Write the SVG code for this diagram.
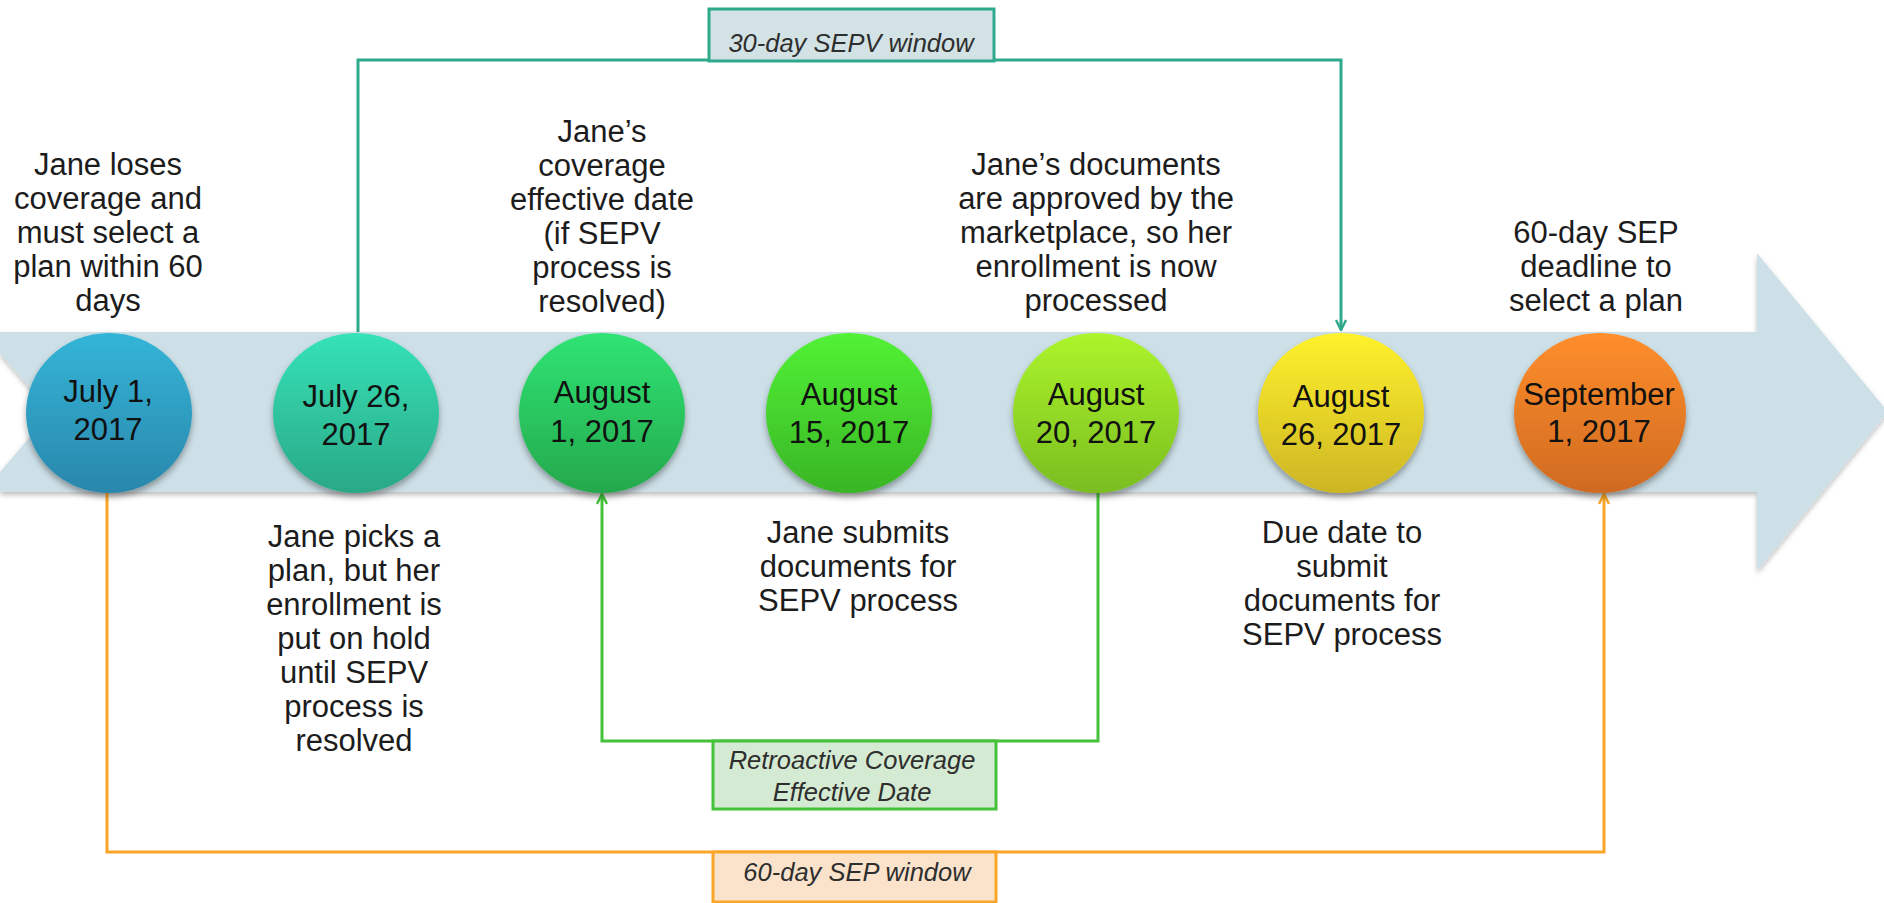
<svg xmlns="http://www.w3.org/2000/svg" width="1884" height="903" viewBox="0 0 1884 903">
<style>
.t{font-family:"Liberation Sans",Arial,sans-serif;font-size:31px;fill:#1c1c1c;text-anchor:middle}
.d{font-family:"Liberation Sans",Arial,sans-serif;font-size:31px;fill:#111;text-anchor:middle}
.lb{font-family:"Liberation Sans",Arial,sans-serif;font-size:25.5px;font-style:italic;fill:#2e2e2e;text-anchor:middle}
.c{fill:none;stroke-width:3}
</style>
<defs>
<filter id="sh" x="-20%" y="-20%" width="140%" height="150%">
<feDropShadow dx="0" dy="4" stdDeviation="3" flood-color="#000" flood-opacity="0.35"/>
</filter>
<filter id="shb" x="-5%" y="-20%" width="110%" height="140%">
<feDropShadow dx="0" dy="3" stdDeviation="2.5" flood-color="#000" flood-opacity="0.25"/>
</filter>
<linearGradient id="g1" x1="0" y1="0" x2="0" y2="1"><stop offset="0" stop-color="#33b5d8"/><stop offset="1" stop-color="#2a87ab"/></linearGradient>
<linearGradient id="g2" x1="0" y1="0" x2="0" y2="1"><stop offset="0" stop-color="#35e2b8"/><stop offset="1" stop-color="#2aa886"/></linearGradient>
<linearGradient id="g3" x1="0" y1="0" x2="0" y2="1"><stop offset="0" stop-color="#30e474"/><stop offset="1" stop-color="#24a84c"/></linearGradient>
<linearGradient id="g4" x1="0" y1="0" x2="0" y2="1"><stop offset="0" stop-color="#52f235"/><stop offset="1" stop-color="#39b526"/></linearGradient>
<linearGradient id="g5" x1="0" y1="0" x2="0" y2="1"><stop offset="0" stop-color="#acf52c"/><stop offset="1" stop-color="#7abd20"/></linearGradient>
<linearGradient id="g6" x1="0" y1="0" x2="0" y2="1"><stop offset="0" stop-color="#fff22c"/><stop offset="1" stop-color="#cdb524"/></linearGradient>
<linearGradient id="g7" x1="0" y1="0" x2="0" y2="1"><stop offset="0" stop-color="#ff8e2b"/><stop offset="1" stop-color="#cf6a21"/></linearGradient>
<marker id="mt" viewBox="0 0 12 12" refX="11" refY="6" markerWidth="12" markerHeight="12" markerUnits="userSpaceOnUse" orient="auto"><path d="M1,1 L11,6 L1,11" fill="none" stroke="#2fa98b" stroke-width="2.5"/></marker>
<marker id="mg" viewBox="0 0 12 12" refX="11" refY="6" markerWidth="12" markerHeight="12" markerUnits="userSpaceOnUse" orient="auto"><path d="M1,1 L11,6 L1,11" fill="none" stroke="#45c23a" stroke-width="2.5"/></marker>
<marker id="mo" viewBox="0 0 12 12" refX="11" refY="6" markerWidth="12" markerHeight="12" markerUnits="userSpaceOnUse" orient="auto"><path d="M1,1 L11,6 L1,11" fill="none" stroke="#f9a628" stroke-width="2.5"/></marker>
</defs>
<rect width="1884" height="903" fill="#fff"/>

<g id="band">
<polygon points="0,332 1757,332 1757,253 1888,412 1757,571 1757,492 0,492 0,472 51,412 0,353" fill="#cde0e7" filter="url(#shb)"/>
</g>

<g id="connectors">
<polyline class="c" stroke="#2fa98b" points="358,332 358,60 1341,60 1341,330" marker-end="url(#mt)"/>
<polyline class="c" stroke="#45c23a" points="1098,492 1098,741 602,741 602,494" marker-end="url(#mg)"/>
<polyline class="c" stroke="#f9a628" points="107,492 107,852 1604,852 1604,494" marker-end="url(#mo)"/>
</g>

<g id="label-sepv">
<rect x="709" y="9" width="285" height="52" fill="#d3e2e5" stroke="#2fa98b" stroke-width="3"/>
<text class="lb" x="851" y="52">30-day SEPV window</text>
</g>
<g id="label-retro">
<rect x="713" y="741" width="283" height="68" fill="#d5ead2" stroke="#45c23a" stroke-width="3"/>
<text class="lb" x="852" y="769">Retroactive Coverage</text>
<text class="lb" x="852" y="801">Effective Date</text>
</g>
<g id="label-sep">
<rect x="713" y="852" width="283" height="50" fill="#fbe3cb" stroke="#f9a628" stroke-width="3"/>
<text class="lb" x="857" y="881">60-day SEP window</text>
</g>

<g id="n1">
<ellipse cx="109" cy="413" rx="83" ry="80" fill="url(#g1)" filter="url(#sh)"/>
<text class="d" x="108" y="402">July 1,</text>
<text class="d" x="108" y="440">2017</text>
</g>
<g id="n2">
<ellipse cx="356" cy="413" rx="83" ry="80" fill="url(#g2)" filter="url(#sh)"/>
<text class="d" x="356" y="407">July 26,</text>
<text class="d" x="356" y="445">2017</text>
</g>
<g id="n3">
<ellipse cx="602" cy="413" rx="83" ry="80" fill="url(#g3)" filter="url(#sh)"/>
<text class="d" x="602" y="403">August</text>
<text class="d" x="602" y="442">1, 2017</text>
</g>
<g id="n4">
<ellipse cx="849" cy="413" rx="83" ry="80" fill="url(#g4)" filter="url(#sh)"/>
<text class="d" x="849" y="405">August</text>
<text class="d" x="849" y="443">15, 2017</text>
</g>
<g id="n5">
<ellipse cx="1096" cy="413" rx="83" ry="80" fill="url(#g5)" filter="url(#sh)"/>
<text class="d" x="1096" y="405">August</text>
<text class="d" x="1096" y="443">20, 2017</text>
</g>
<g id="n6">
<ellipse cx="1341" cy="413" rx="83" ry="80" fill="url(#g6)" filter="url(#sh)"/>
<text class="d" x="1341" y="407">August</text>
<text class="d" x="1341" y="445">26, 2017</text>
</g>
<g id="n7">
<ellipse cx="1600" cy="413" rx="86" ry="80" fill="url(#g7)" filter="url(#sh)"/>
<text class="d" x="1599" y="405">September</text>
<text class="d" x="1599" y="442">1, 2017</text>
</g>

<g id="text-jul1">
<text class="t" x="108" y="175">Jane loses</text>
<text class="t" x="108" y="209">coverage and</text>
<text class="t" x="108" y="243">must select a</text>
<text class="t" x="108" y="277">plan within 60</text>
<text class="t" x="108" y="311">days</text>
</g>
<g id="text-aug1">
<text class="t" x="602" y="142">Jane’s</text>
<text class="t" x="602" y="176">coverage</text>
<text class="t" x="602" y="210">effective date</text>
<text class="t" x="602" y="244">(if SEPV</text>
<text class="t" x="602" y="278">process is</text>
<text class="t" x="602" y="312">resolved)</text>
</g>
<g id="text-aug20">
<text class="t" x="1096" y="175">Jane’s documents</text>
<text class="t" x="1096" y="209">are approved by the</text>
<text class="t" x="1096" y="243">marketplace, so her</text>
<text class="t" x="1096" y="277">enrollment is now</text>
<text class="t" x="1096" y="311">processed</text>
</g>
<g id="text-sep1">
<text class="t" x="1596" y="243">60-day SEP</text>
<text class="t" x="1596" y="277">deadline to</text>
<text class="t" x="1596" y="311">select a plan</text>
</g>
<g id="text-jul26">
<text class="t" x="354" y="547">Jane picks a</text>
<text class="t" x="354" y="581">plan, but her</text>
<text class="t" x="354" y="615">enrollment is</text>
<text class="t" x="354" y="649">put on hold</text>
<text class="t" x="354" y="683">until SEPV</text>
<text class="t" x="354" y="717">process is</text>
<text class="t" x="354" y="751">resolved</text>
</g>
<g id="text-aug15">
<text class="t" x="858" y="543">Jane submits</text>
<text class="t" x="858" y="577">documents for</text>
<text class="t" x="858" y="611">SEPV process</text>
</g>
<g id="text-aug26">
<text class="t" x="1342" y="543">Due date to</text>
<text class="t" x="1342" y="577">submit</text>
<text class="t" x="1342" y="611">documents for</text>
<text class="t" x="1342" y="645">SEPV process</text>
</g>
</svg>
